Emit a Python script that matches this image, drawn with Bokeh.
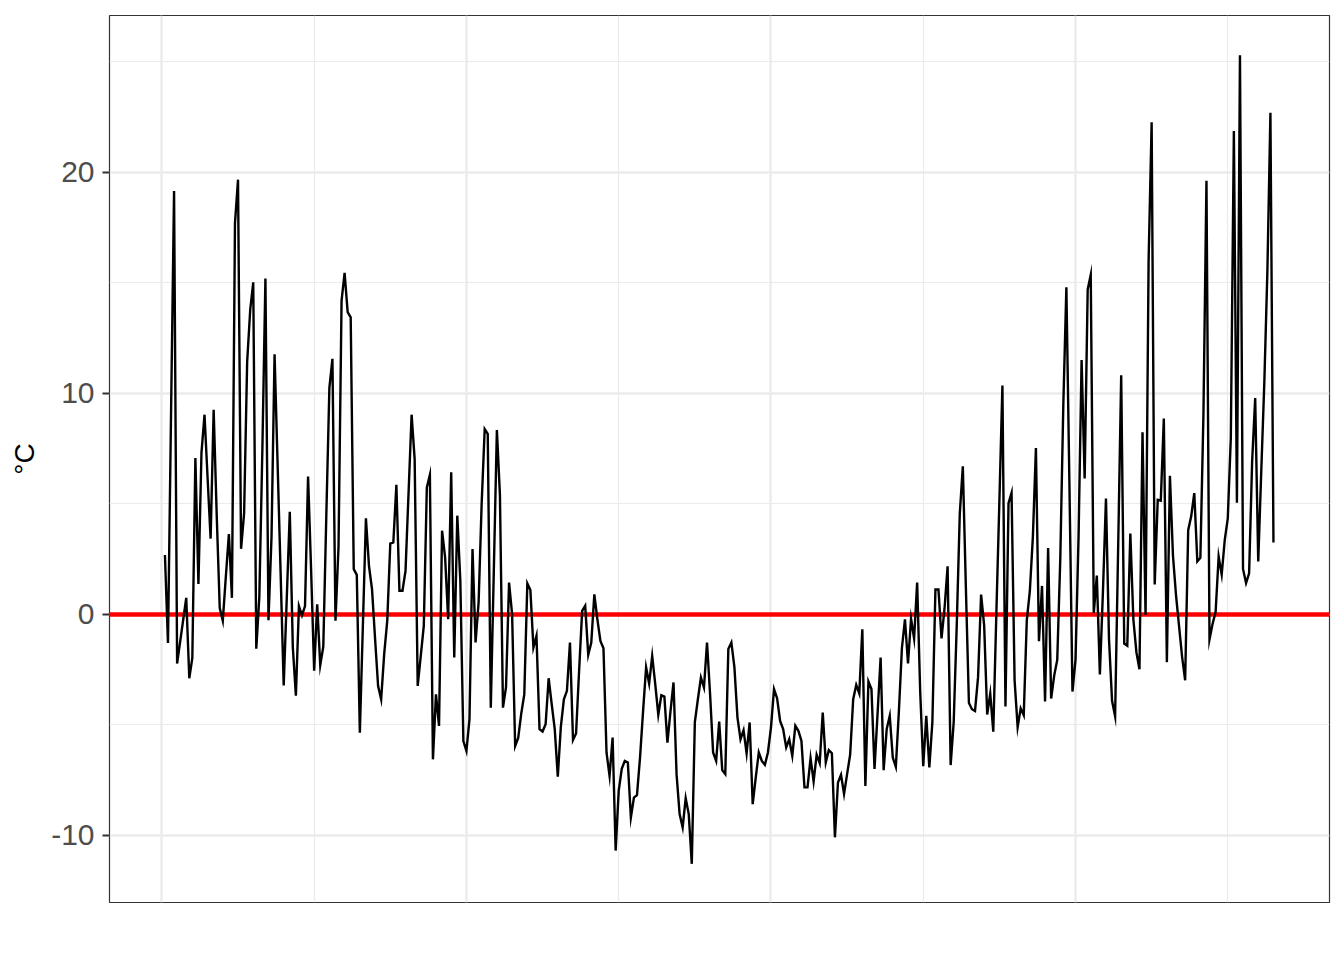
from bokeh.plotting import figure
from bokeh.models import Range1d, FixedTicker
from bokeh.embed import file_html
from bokeh.resources import INLINE

# ---- data ----
temps = [
    2.68, -1.3, 9.0, 19.16, -2.23, -1.24, -0.25, 0.74, -2.9, -1.98,
    7.07, 1.37, 7.3, 9.03, 6.2, 3.42, 9.25, 4.5, 0.28, -0.3,
    1.7, 3.63, 0.74, 17.7, 19.67, 2.96, 4.56, 11.42, 13.77, 15.02,
    -1.56, 0.79, 7.5, 15.19, -0.27, 3.5, 11.76, 6.8, 1.8, -3.23,
    0.7, 4.64, -1.5, -3.69, 0.37, -0.05, 0.37, 6.23, 2.0, -2.56,
    0.45, -2.31, -1.47, 4.5, 10.25, 11.56, -0.3, 3.05, 14.19, 15.45,
    13.67, 13.44, 2.04, 1.78, -5.36, -0.5, 4.34, 2.19, 1.13, -1.1,
    -3.25, -3.85, -1.8, -0.3, 3.2, 3.25, 5.86, 1.06, 1.06, 1.96,
    5.5, 9.03, 7.02, -3.25, -1.9, -0.53, 5.74, 6.31, -6.57, -3.63,
    -5.06, 3.78, 2.57, -0.23, 6.42, -1.96, 4.46, 1.5, -5.74, -6.19,
    -4.76, 2.95, -1.28, 0.53, 5.0, 8.38, 8.16, -4.23, 2.0, 8.34,
    5.4, -4.23, -3.3, 1.43, 0.0, -5.97, -5.6, -4.5, -3.63, 1.39,
    1.09, -1.51, -0.98, -5.2, -5.31, -4.98, -2.9, -4.07, -5.2, -7.36,
    -5.1, -3.85, -3.47, -1.28, -5.69, -5.4, -2.56, 0.15, 0.38, -1.84,
    -1.28, 0.9, -0.23, -1.21, -1.54, -6.26, -7.32, -5.58, -10.7, -8.0,
    -7.0, -6.64, -6.71, -9.2, -8.3, -8.19, -6.5, -4.4, -2.41, -3.14,
    -1.89, -3.17, -4.55, -3.67, -3.73, -5.81, -4.4, -3.09, -7.24, -9.05,
    -9.65, -8.33, -9.05, -11.3, -4.9, -3.85, -2.87, -3.32, -1.28, -3.6,
    -6.26, -6.64, -4.86, -7.06, -7.24, -1.58, -1.28, -2.41, -4.68, -5.66,
    -5.25, -6.3, -4.9, -8.6, -7.4, -6.26, -6.64, -6.82, -6.26, -5.13,
    -3.39, -3.8, -4.83, -5.2, -6.03, -5.66, -6.41, -5.05, -5.28, -5.73,
    -7.84, -7.84, -6.52, -7.57, -6.36, -6.74, -4.45, -6.71, -6.15, -6.29,
    -10.1, -7.62, -7.27, -8.14, -7.24, -6.36, -3.85, -3.2, -3.59, -0.68,
    -7.77, -3.05, -3.39, -7.0, -4.5, -1.96, -7.06, -5.2, -4.6, -6.49,
    -6.91, -4.4, -1.53, -0.23, -2.23, -0.2, -1.1, 1.43, -3.5, -6.88,
    -4.6, -6.94, -4.88, 1.12, 1.12, -1.1, 0.27, 2.17, -6.83, -4.88,
    -0.5, 4.55, 6.69, 1.2, -4.02, -4.3, -4.38, -2.85, 0.89, -0.5,
    -4.54, -3.6, -5.32, 0.0, 5.1, 10.35, -4.18, 5.02, 5.49, -3.0,
    -5.11, -4.26, -4.57, -0.28, 1.04, 3.5, 7.52, -1.22, 1.28, -3.95,
    2.99, -3.82, -2.78, -2.07, 2.5, 9.5, 14.8, 5.9, -3.5, -2.07,
    3.5, 11.5, 6.14, 14.7, 15.36, 0.06, 1.75, -2.73, 1.0, 5.24,
    -1.14, -3.92, -4.62, 3.0, 10.82, -1.33, -1.43, 3.65, -0.24, -1.73,
    -2.49, 8.23, -0.04, 16.0, 22.27, 1.35, 5.18, 5.14, 8.86, -2.17,
    6.27, 2.65, 0.86, -0.54, -1.93, -2.99, 3.8, 4.44, 5.48, 2.39,
    2.55, 9.0, 19.62, -1.14, -0.44, 0.1, 2.61, 1.79, 3.35, 4.34,
    8.0, 21.87, 5.04, 25.3, 2.05, 1.41, 1.85, 6.93, 9.78, 2.39,
    6.5, 10.5, 15.5, 22.7, 3.25,
]
days = list(range(1, len(temps) + 1))
reference_level = [0]
y_ticks = [-10, 0, 10, 20]
y_tick_labels = ["-10", "0", "10", "20"]
y_minor_ticks = [-5, 5, 15, 25]
x_ticks = [0, 100, 200, 300]
x_minor_ticks = [50, 150, 250, 350]
y_label = "°C"

FONT = "Liberation Sans"
GRID = "#EBEBEB"

p = figure(
    width=1344, height=960,
    output_backend="svg", toolbar_location=None,
    x_range=Range1d(-17.2, 383.4), y_range=Range1d(-13.05, 27.1),
    min_border_left=109, min_border_right=15, min_border_top=15, min_border_bottom=58,
    background_fill_color="white", border_fill_color="white",
)
p.outline_line_color = "#333333"
p.outline_line_width = 1.2

# grids
p.xaxis.visible = False
p.xgrid[0].ticker = FixedTicker(ticks=x_ticks, minor_ticks=x_minor_ticks)
p.ygrid[0].ticker = FixedTicker(ticks=y_ticks, minor_ticks=y_minor_ticks)
for g in (p.xgrid[0], p.ygrid[0]):
    g.grid_line_color = GRID
    g.grid_line_width = 2.4
    g.minor_grid_line_color = GRID
    g.minor_grid_line_width = 1.2

# y axis
ya = p.yaxis[0]
ya.ticker = FixedTicker(ticks=y_ticks, minor_ticks=y_minor_ticks)
ya.major_label_overrides = dict(zip(y_ticks, y_tick_labels))
ya.axis_line_color = None
ya.minor_tick_line_color = None
ya.major_tick_in = 0
ya.major_tick_out = 7
ya.major_tick_line_color = "#333333"
ya.major_tick_line_width = 2
ya.major_label_text_font = FONT
ya.major_label_text_font_size = "30px"
ya.major_label_text_color = "#4D4D4D"
ya.major_label_standoff = 8
ya.axis_label = y_label
ya.axis_label_text_font = FONT
ya.axis_label_text_font_size = "28px"
ya.axis_label_text_font_style = "normal"
ya.axis_label_text_color = "black"
ya.axis_label_standoff = 8

# red reference line (below the series)
p.hspan(y=reference_level, line_color="#FF0000", line_width=4.5)
# series
p.line(days, temps, line_color="black", line_width=2.4, line_join="miter")

open("out.html", "w").write(file_html(p, INLINE))
